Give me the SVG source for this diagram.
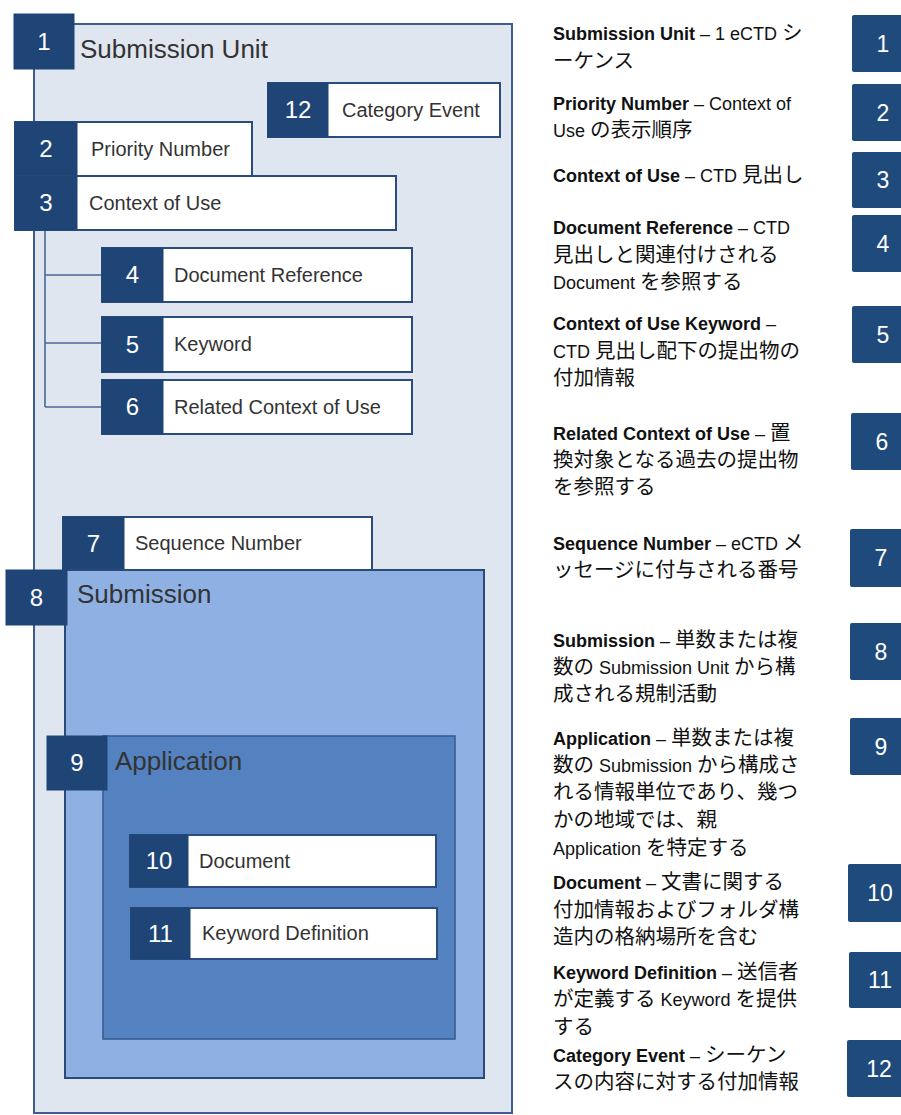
<svg xmlns="http://www.w3.org/2000/svg" width="901" height="1115" viewBox="0 0 901 1115">
<style>
.bg{fill:#ffffff}
.badge{fill:#1f4576;stroke:#1f4576;stroke-width:1}
.lbl{fill:#ffffff;stroke:#2b4c7e;stroke-width:2}
.num{font-family:"Liberation Sans",Arial,sans-serif;font-size:24px;fill:#ffffff;text-anchor:middle}
.t{font-family:"Liberation Sans",Arial,sans-serif;font-size:20px;fill:#333333}
.big{font-family:"Liberation Sans",Arial,sans-serif;font-size:26px}
.conn{stroke:#4a6794;stroke-width:1.6;fill:none}
.rt{font-family:"Liberation Sans","Noto Sans CJK JP",sans-serif;font-size:18px;fill:#111111}
.b{font-weight:bold}
.j{font-size:20.5px;font-family:"Liberation Sans","Noto Sans CJK JP",sans-serif}
.rb{fill:#1f4a7c}
.rn{font-family:"Liberation Sans",Arial,sans-serif;font-size:23px;fill:#ffffff;text-anchor:middle}
</style>
<rect class="bg" x="0" y="0" width="901" height="1115"/>

<!-- Outer container: Submission Unit -->
<g id="n1">
<rect x="34" y="24" width="478" height="1089" fill="#dfe6ef" stroke="#3d5d8f" stroke-width="2"/>
<rect class="badge" x="14" y="14" width="60" height="55"/>
<text class="num" x="44" y="50">1</text>
<text class="t big" x="80" y="58" fill="#262626">Submission Unit</text>
</g>

<g id="connectors">
<line class="conn" x1="45" y1="230" x2="45" y2="407"/>
<line class="conn" x1="45" y1="275" x2="102" y2="275"/>
<line class="conn" x1="45" y1="343" x2="102" y2="343"/>
<line class="conn" x1="45" y1="407" x2="102" y2="407"/>
</g>

<g id="n12">
<rect class="lbl" x="268" y="83" width="232" height="54"/>
<rect class="badge" x="268" y="83" width="60" height="54"/>
<text class="num" x="298" y="118">12</text>
<text class="t" x="342" y="117">Category Event</text>
</g>

<g id="n2">
<rect class="lbl" x="15" y="122" width="237" height="54"/>
<rect class="badge" x="15" y="122" width="62" height="54"/>
<text class="num" x="46" y="157">2</text>
<text class="t" x="91" y="156">Priority Number</text>
</g>

<g id="n3">
<rect class="lbl" x="15" y="176" width="381" height="54"/>
<rect class="badge" x="15" y="176" width="62" height="54"/>
<text class="num" x="46" y="211">3</text>
<text class="t" x="89" y="210">Context of Use</text>
</g>

<g id="n4">
<rect class="lbl" x="102" y="248" width="310" height="54"/>
<rect class="badge" x="102" y="248" width="61" height="54"/>
<text class="num" x="132.5" y="283">4</text>
<text class="t" x="174" y="282">Document Reference</text>
</g>

<g id="n5">
<rect class="lbl" x="102" y="317" width="310" height="55"/>
<rect class="badge" x="102" y="317" width="61" height="55"/>
<text class="num" x="132.5" y="353">5</text>
<text class="t" x="174" y="351">Keyword</text>
</g>

<g id="n6">
<rect class="lbl" x="102" y="380" width="310" height="54"/>
<rect class="badge" x="102" y="380" width="61" height="54"/>
<text class="num" x="132.5" y="415">6</text>
<text class="t" x="174" y="414">Related Context of Use</text>
</g>

<g id="n7">
<rect class="lbl" x="63" y="517" width="309" height="53"/>
<rect class="badge" x="63" y="517" width="61" height="53"/>
<text class="num" x="93.5" y="552">7</text>
<text class="t" x="135" y="550">Sequence Number</text>
</g>

<g id="n8">
<rect x="65" y="570" width="419" height="508" fill="#8eb0e2" stroke="#2c4a78" stroke-width="2"/>
<rect class="badge" x="6" y="570" width="61" height="55"/>
<text class="num" x="36.5" y="606">8</text>
<text class="t big" x="77" y="603" fill="#eaf0fa">Submission</text>
</g>

<g id="n9">
<rect x="103" y="736" width="352" height="303" fill="#5481bf" stroke="#3a5d93" stroke-width="1.6"/>
<rect class="badge" x="47" y="736" width="60" height="54"/>
<text class="num" x="77" y="771">9</text>
<text class="t big" x="115" y="770" fill="#ffffff" font-size="27">Application</text>
</g>

<g id="n10">
<rect class="lbl" x="130" y="835" width="306" height="52" stroke="#2a4a7a"/>
<rect class="badge" x="130" y="835" width="58" height="52"/>
<text class="num" x="159" y="869">10</text>
<text class="t" x="199" y="868">Document</text>
</g>

<g id="n11">
<rect class="lbl" x="131" y="908" width="306" height="51" stroke="#2a4a7a"/>
<rect class="badge" x="131" y="908" width="59" height="51"/>
<text class="num" x="160.5" y="942">11</text>
<text class="t" x="202" y="940">Keyword Definition</text>
</g>

<!-- Right legend text -->
<g id="legend-text">
<text class="rt" x="553" y="40"><tspan class="b">Submission Unit</tspan> – 1 eCTD <tspan class="j">シ</tspan></text>
<text class="rt" x="553" y="68"><tspan class="j">ーケンス</tspan></text>

<text class="rt" x="553" y="110"><tspan class="b">Priority Number</tspan> – Context of</text>
<text class="rt" x="553" y="137">Use <tspan class="j">の表示順序</tspan></text>

<text class="rt" x="553" y="182"><tspan class="b">Context of Use</tspan> – CTD <tspan class="j">見出し</tspan></text>

<text class="rt" x="553" y="234"><tspan class="b">Document Reference</tspan> – CTD</text>
<text class="rt" x="553" y="262"><tspan class="j">見出しと関連付けされる</tspan></text>
<text class="rt" x="553" y="289">Document <tspan class="j">を参照する</tspan></text>

<text class="rt" x="553" y="330"><tspan class="b">Context of Use Keyword</tspan> –</text>
<text class="rt" x="553" y="358">CTD <tspan class="j">見出し配下の提出物の</tspan></text>
<text class="rt" x="553" y="385"><tspan class="j">付加情報</tspan></text>

<text class="rt" x="553" y="440"><tspan class="b">Related Context of Use</tspan> – <tspan class="j">置</tspan></text>
<text class="rt" x="553" y="467"><tspan class="j">換対象となる過去の提出物</tspan></text>
<text class="rt" x="553" y="494"><tspan class="j">を参照する</tspan></text>

<text class="rt" x="553" y="550"><tspan class="b">Sequence Number</tspan> – eCTD <tspan class="j">メ</tspan></text>
<text class="rt" x="553" y="577"><tspan class="j">ッセージに付与される番号</tspan></text>

<text class="rt" x="553" y="647"><tspan class="b">Submission</tspan> – <tspan class="j">単数または複</tspan></text>
<text class="rt" x="553" y="674"><tspan class="j">数の</tspan> Submission Unit <tspan class="j">から構</tspan></text>
<text class="rt" x="553" y="701"><tspan class="j">成される規制活動</tspan></text>

<text class="rt" x="553" y="745"><tspan class="b">Application</tspan> – <tspan class="j">単数または複</tspan></text>
<text class="rt" x="553" y="772"><tspan class="j">数の</tspan> Submission <tspan class="j">から構成さ</tspan></text>
<text class="rt" x="553" y="799"><tspan class="j">れる情報単位であり、幾つ</tspan></text>
<text class="rt" x="553" y="827"><tspan class="j">かの地域では、親</tspan></text>
<text class="rt" x="553" y="855">Application <tspan class="j">を特定する</tspan></text>

<text class="rt" x="553" y="889"><tspan class="b">Document</tspan> – <tspan class="j">文書に関する</tspan></text>
<text class="rt" x="553" y="917"><tspan class="j">付加情報およびフォルダ構</tspan></text>
<text class="rt" x="553" y="944"><tspan class="j">造内の格納場所を含む</tspan></text>

<text class="rt" x="553" y="979"><tspan class="b">Keyword Definition</tspan> – <tspan class="j">送信者</tspan></text>
<text class="rt" x="553" y="1006"><tspan class="j">が定義する</tspan> Keyword <tspan class="j">を提供</tspan></text>
<text class="rt" x="553" y="1034"><tspan class="j">する</tspan></text>

<text class="rt" x="553" y="1062"><tspan class="b">Category Event</tspan> – <tspan class="j">シーケン</tspan></text>
<text class="rt" x="553" y="1089"><tspan class="j">スの内容に対する付加情報</tspan></text>
</g>

<!-- Right number badges -->
<g id="legend-badges">
<g id="r1"><rect class="rb" x="852" y="15" width="62" height="57" rx="2"/><text class="rn" x="883" y="52">1</text></g>
<g id="r2"><rect class="rb" x="852" y="84" width="62" height="57" rx="2"/><text class="rn" x="883" y="121">2</text></g>
<g id="r3"><rect class="rb" x="852" y="152" width="62" height="56" rx="2"/><text class="rn" x="883" y="188">3</text></g>
<g id="r4"><rect class="rb" x="852" y="215" width="62" height="57" rx="2"/><text class="rn" x="883" y="252">4</text></g>
<g id="r5"><rect class="rb" x="852" y="306" width="62" height="57" rx="2"/><text class="rn" x="883" y="343">5</text></g>
<g id="r6"><rect class="rb" x="851" y="413" width="62" height="57" rx="2"/><text class="rn" x="882" y="450">6</text></g>
<g id="r7"><rect class="rb" x="850" y="529" width="62" height="58" rx="2"/><text class="rn" x="881" y="566">7</text></g>
<g id="r8"><rect class="rb" x="850" y="623" width="62" height="57" rx="2"/><text class="rn" x="881" y="660">8</text></g>
<g id="r9"><rect class="rb" x="850" y="718" width="62" height="57" rx="2"/><text class="rn" x="881" y="755">9</text></g>
<g id="r10"><rect class="rb" x="848" y="864" width="64" height="58" rx="2"/><text class="rn" x="880" y="901">10</text></g>
<g id="r11"><rect class="rb" x="849" y="952" width="64" height="56" rx="2"/><text class="rn" x="880" y="988">11</text></g>
<g id="r12"><rect class="rb" x="847" y="1040" width="64" height="57" rx="2"/><text class="rn" x="879" y="1077">12</text></g>
</g>
</svg>
